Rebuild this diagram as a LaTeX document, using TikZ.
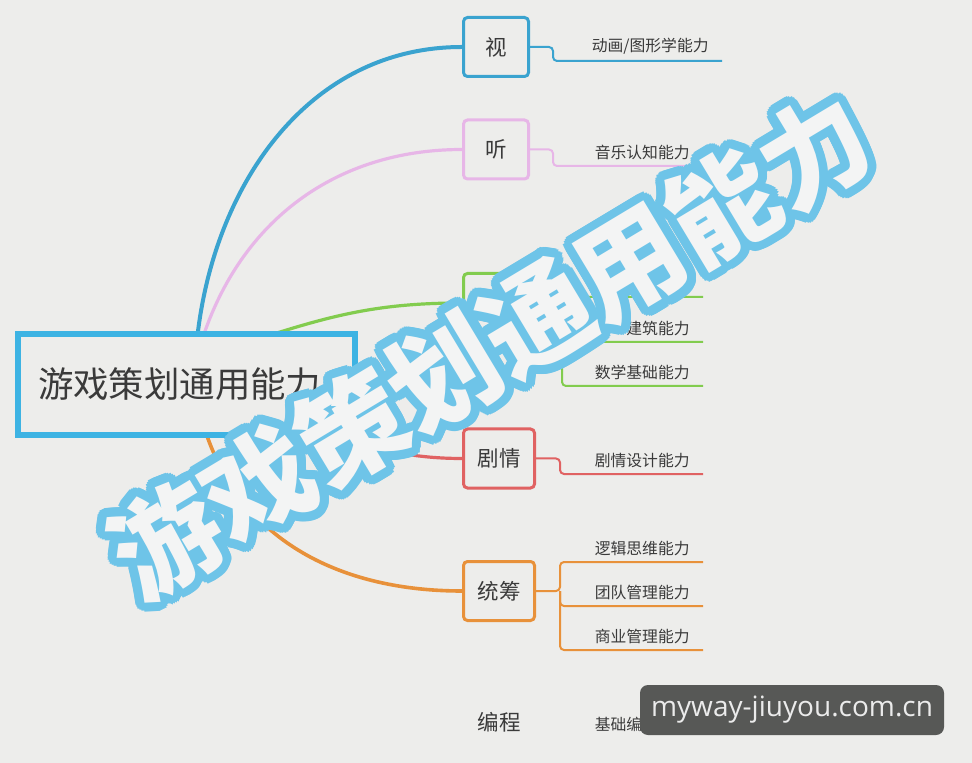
\documentclass[tikz,border=0pt]{standalone}
\usepackage{fontspec}
\setmainfont{Noto Sans CJK SC}
\newfontfamily\wmfont{Noto Sans CJK SC}
\newfontfamily\urlfont{Open Sans}
\definecolor{bgcol}{HTML}{EDEDEB}
\definecolor{txtcol}{HTML}{3A3A3A}
\definecolor{ctrblue}{HTML}{3DB3E3}
\definecolor{visblue}{HTML}{3AA3CF}
\definecolor{tingpink}{HTML}{E7B6E7}
\definecolor{kjgreen}{HTML}{82CC4E}
\definecolor{jqred}{HTML}{E06262}
\definecolor{tcorange}{HTML}{E8913A}
\definecolor{wmblue}{HTML}{6EC4E8}
\definecolor{wmwhite}{HTML}{F3F4F4}
\definecolor{tagcol}{HTML}{575856}
\begin{document}
\begin{tikzpicture}[x=0.5pt,y=-0.5pt,
    ctrbox/.style={draw=ctrblue,line width=3pt,fill=bgcol,minimum width=168.5pt,
      minimum height=50.5pt,text width=148.5pt,inner xsep=10pt,align=left,
      text=txtcol,font=\fontsize{17.7}{20}\selectfont},
    branch/.style={draw=#1,line width=1.5pt,rounded corners=2pt,fill=bgcol,
      minimum width=32.5pt,minimum height=29.5pt,text=txtcol,
      font=\fontsize{10.75}{12}\selectfont},
    leaf/.style={anchor=south east,inner xsep=6.5pt,inner ysep=3pt,text=txtcol,
      font=\fontsize{7.9}{9}\selectfont},
    trunk/.style={line width=#1,line cap=round},
    twig/.style={draw=#1,line width=1pt,rounded corners=2pt},
    wm/.style={rotate=31,inner sep=0pt,font=\wmfont\bfseries\fontsize{54}{60}\selectfont}]

  \fill[bgcol] (0,0) rectangle (972,763);
  \useasboundingbox (0,0) rectangle (972,763);

  % branches
  \node (vis) at (496,47) [branch=visblue] {视};
  \node (ting) at (496,149.5) [branch=tingpink] {听};
  \node (kj) at (496,303) [branch=kjgreen] {};
  \node (jq) at (499,458.5) [branch=jqred,minimum width=35.5pt] {剧情};
  \node (tc) at (499,591) [branch=tcorange,minimum width=35.5pt] {统筹};
  \node (bc) at (499,722) [text=txtcol,font=\fontsize{10.75}{12}\selectfont] {编程};

  % leaves
  \node (anim) at (722,61) [leaf] {动画/图形学能力};
  \node (music) at (703,166) [leaf] {音乐认知能力};
  \node (kj1) at (703,297) [leaf] {};
  \node (build) at (703,342) [leaf] {建筑能力};
  \node (math) at (703,386) [leaf] {数学基础能力};
  \node (plot) at (703,474) [leaf] {剧情设计能力};
  \node (logic) at (703,562) [leaf] {逻辑思维能力};
  \node (team) at (703,606) [leaf] {团队管理能力};
  \node (biz) at (703,650) [leaf] {商业管理能力};
  \node (code) at (703,738) [leaf] {基础编程能力};

  \draw [twig=visblue] (vis.east) -- ++(23,0) |- (anim.south east);
  \draw [twig=tingpink] (ting.east) -- ++(23,0) |- (music.south east);
  \draw [twig=kjgreen] (kj.east) -- ++(32,0) |- (kj1.south east);
  \draw [twig=kjgreen] (kj.east) ++(32,0) |- (build.south east);
  \draw [twig=kjgreen] (kj.east) ++(32,0) |- (math.south east);
  \draw [twig=jqred] (jq.east) -- ++(24,0) |- (plot.south east);
  \draw [twig=tcorange] (tc.east) -- ++(24,0) |- (logic.south east);
  \draw [twig=tcorange] (tc.east) ++(24,0) |- (team.south east);
  \draw [twig=tcorange] (tc.east) ++(24,0) |- (biz.south east);

  % root
  \draw [trunk=2pt,visblue] (197,340) to[out=84,in=180] (vis.west);
  \draw [trunk=1.6pt,tingpink] (202,340) to[out=72,in=180] (ting.west);
  \draw [trunk=1.6pt,kjgreen] (255,340) to[out=18,in=180] (kj.west);
  \draw [trunk=1.6pt,jqred] (300,430) to[out=-12,in=180] (jq.west);
  \draw [trunk=1.8pt,tcorange] (205,430) to[out=-72,in=180] (tc.west);
  \node (ctr) at (186.5,384.5) [ctrbox] {游戏策划通用能力};

  % watermark
  \foreach \a in {0,15,...,345}
    \node (wm\a) at (490,345) [wm,shift={(\a:9)},text=wmblue] {游戏策划通用能力};
  \node (wmtop) at (490,345) [wm,text=wmwhite] {游戏策划通用能力};

  \node (tag) at (792,710) [fill=tagcol,rounded corners=4pt,minimum width=152pt,
    minimum height=25pt,text=white!92!black,font=\urlfont\fontsize{14}{16}\selectfont]
    {myway-jiuyou.com.cn};
\end{tikzpicture}
\end{document}
